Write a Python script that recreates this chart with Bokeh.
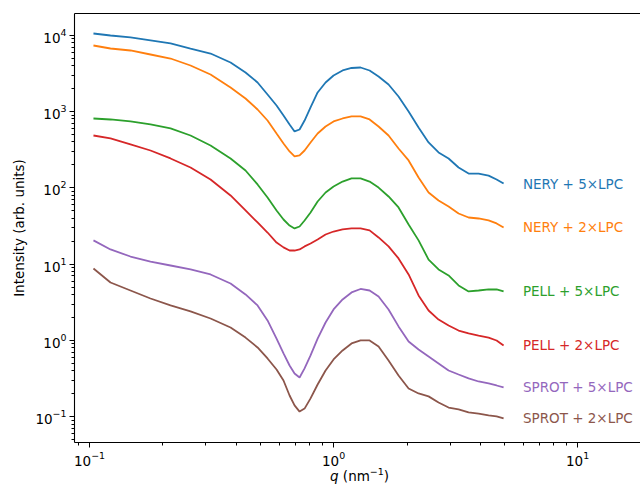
from bokeh.plotting import figure
from bokeh.models import LogAxis, FixedTicker, Range1d, Label, ColumnDataSource, Div
from bokeh.layouts import column
from bokeh.embed import file_html
from bokeh.resources import INLINE

# scattering vector q (nm^-1)
q = [0.1038, 0.1219, 0.1472, 0.1778, 0.2148, 0.2594, 0.3133, 0.3784, 0.4358,
     0.4882, 0.5364, 0.5840, 0.6236, 0.6603, 0.6921, 0.7257, 0.7607, 0.8049,
     0.8604, 0.9273, 1.000, 1.089, 1.185, 1.290, 1.405, 1.529, 1.680, 1.846,
     2.030, 2.230, 2.451, 2.693, 2.960, 3.253, 3.575, 3.929, 4.318, 4.656, 4.974]

nery_5 = [10560, 9940, 9360, 8550, 7810, 6710, 5770, 4400, 3250,
          2407, 1676, 1202, 889, 677, 549, 583, 764, 1132,
          1780, 2407, 2972, 3457, 3727, 3784, 3457, 2884, 2266, 1577,
          1003, 619, 394, 291, 243, 185, 154, 154, 145, 129, 114]
nery_2 = [7350, 6710, 6320, 5600, 4960, 4020, 3065, 2070, 1485,
          1065, 764, 516, 382, 300, 258, 266, 309, 394,
          516, 638, 742, 812, 863, 863, 788, 638, 486, 328,
          229, 137, 87.0, 68.4, 57.0, 46.2, 40.9, 39.7, 37.4, 34.2, 30.3]
pell_5 = [812, 788, 742, 678, 601, 486, 360, 243, 169,
          111, 74.8, 50.6, 38.5, 32.1, 29.4, 31.2, 37.4, 47.6,
          66.3, 87.0, 104, 121, 133, 133, 121, 101, 77.2, 55.4,
          33.1, 20.5, 11.5, 8.52, 7.11, 5.26, 4.39, 4.52, 4.66, 4.66, 4.39]
pell_2 = [486, 444, 371, 309, 243, 185, 129, 79.5, 50.6,
          35.2, 26.0, 19.2, 16.6, 15.1, 15.1, 15.6, 17.1, 18.7,
          21.1, 24.5, 26.8, 28.5, 29.4, 29.4, 27.7, 22.4, 17.1, 11.9,
          7.33, 3.89, 2.47, 1.88, 1.57, 1.35, 1.24, 1.16, 1.09, 1.00, 0.86]
sprot_5 = [20.5, 15.6, 12.6, 10.8, 9.61, 8.52, 7.33, 5.58, 4.01,
           2.88, 1.83, 1.06, 0.676, 0.470, 0.369, 0.327, 0.430, 0.636,
           1.06, 1.72, 2.55, 3.45, 4.26, 4.73, 4.52, 3.77, 2.55, 1.53,
           0.970, 0.762, 0.617, 0.500, 0.404, 0.358, 0.318, 0.290, 0.273, 0.257, 0.242]
sprot_2 = [8.78, 5.75, 4.52, 3.55, 2.88, 2.40, 1.94, 1.48, 1.09,
           0.810, 0.581, 0.417, 0.299, 0.190, 0.141, 0.117, 0.128, 0.174,
           0.265, 0.404, 0.564, 0.740, 0.914, 1.00, 1.00, 0.834, 0.547, 0.348,
           0.235, 0.202, 0.185, 0.154, 0.132, 0.125, 0.114, 0.110, 0.104, 0.101, 0.095]

series_names = ["NERY + 5\u00d7LPC", "NERY + 2\u00d7LPC", "PELL + 5\u00d7LPC",
                "PELL + 2\u00d7LPC", "SPROT + 5\u00d7LPC", "SPROT + 2\u00d7LPC"]
series_values = [nery_5, nery_2, pell_5, pell_2, sprot_5, sprot_2]
colors = ["#1f77b4", "#ff7f0e", "#2ca02c", "#d62728", "#9467bd", "#8c564b"]

x_major = [0.1, 1, 10]
x_minor = [0.09, 0.2, 0.3, 0.4, 0.5, 0.6, 0.7, 0.8, 0.9,
           2, 3, 4, 5, 6, 7, 8, 9]
y_major = [0.1, 1, 10, 100, 1000, 10000]
y_minor = [m * 10.0 ** e for e in range(-2, 5) for m in range(2, 10)
           if 0.046 < m * 10.0 ** e < 19300]

FONT = "DejaVu Sans"
FS = "13.5px"

p = figure(width=640, height=468, x_axis_type="log", y_axis_type="log",
           x_range=Range1d(0.0868, 18.1), y_range=Range1d(0.046, 19300),
           output_backend="svg", toolbar_location=None,
           min_border_left=74, min_border_right=0, min_border_top=13,
           min_border_bottom=0)
p.outline_line_color = None
p.grid.visible = False
p.background_fill_color = "white"

for name, vals, c in zip(series_names, series_values, colors):
    src = ColumnDataSource(dict(q=q, I=vals))
    p.line("q", "I", source=src, line_color=c, line_width=1.8)
    p.add_layout(Label(x=q[-1] * 1.2, y=vals[-1], text=name,
                       text_color=c, text_font=FONT, text_font_size=FS,
                       text_baseline="middle", text_align="left"))

for ax, maj, mnr in ((p.xaxis[0], x_major, x_minor), (p.yaxis[0], y_major, y_minor)):
    ax.ticker = FixedTicker(ticks=maj, minor_ticks=mnr)
    ax.major_label_text_font = FONT
    ax.major_label_text_font_size = FS
    ax.major_label_text_color = "black"
    ax.axis_line_color = "black"
    ax.axis_line_width = 1.1
    ax.major_tick_line_color = "black"
    ax.minor_tick_line_color = "black"
    ax.major_tick_out = 5
    ax.major_tick_in = 0
    ax.minor_tick_out = 3
    ax.minor_tick_in = 0
    ax.major_label_standoff = 3
    ax.axis_label_text_font = FONT
    ax.axis_label_text_font_size = FS
    ax.axis_label_text_font_style = "normal"
    ax.axis_label_text_color = "black"

p.yaxis[0].axis_label = "Intensity (arb. units)"
p.yaxis[0].axis_label_standoff = 5

top = LogAxis(ticker=FixedTicker(ticks=[], minor_ticks=[]),
              major_label_text_font_size="0px", major_tick_line_color=None,
              minor_tick_line_color=None, axis_line_color="black",
              axis_line_width=1.1, major_label_standoff=0)
p.add_layout(top, "above")

xlabel = Div(text='<div style="margin-left:330px; margin-top:-6px; white-space:nowrap; '
                  'font-family:\'DejaVu Sans\'; font-size:13.5px; color:black; '
                  'line-height:18px;"><i>q</i> (nm<sup style="font-size:9.5px;">'
                  '\u22121</sup>)</div>',
             width=640, height=19, margin=(0, 0, 0, 0))

layout = column(p, xlabel, spacing=0)

open("out.html", "w").write(file_html(layout, INLINE))
